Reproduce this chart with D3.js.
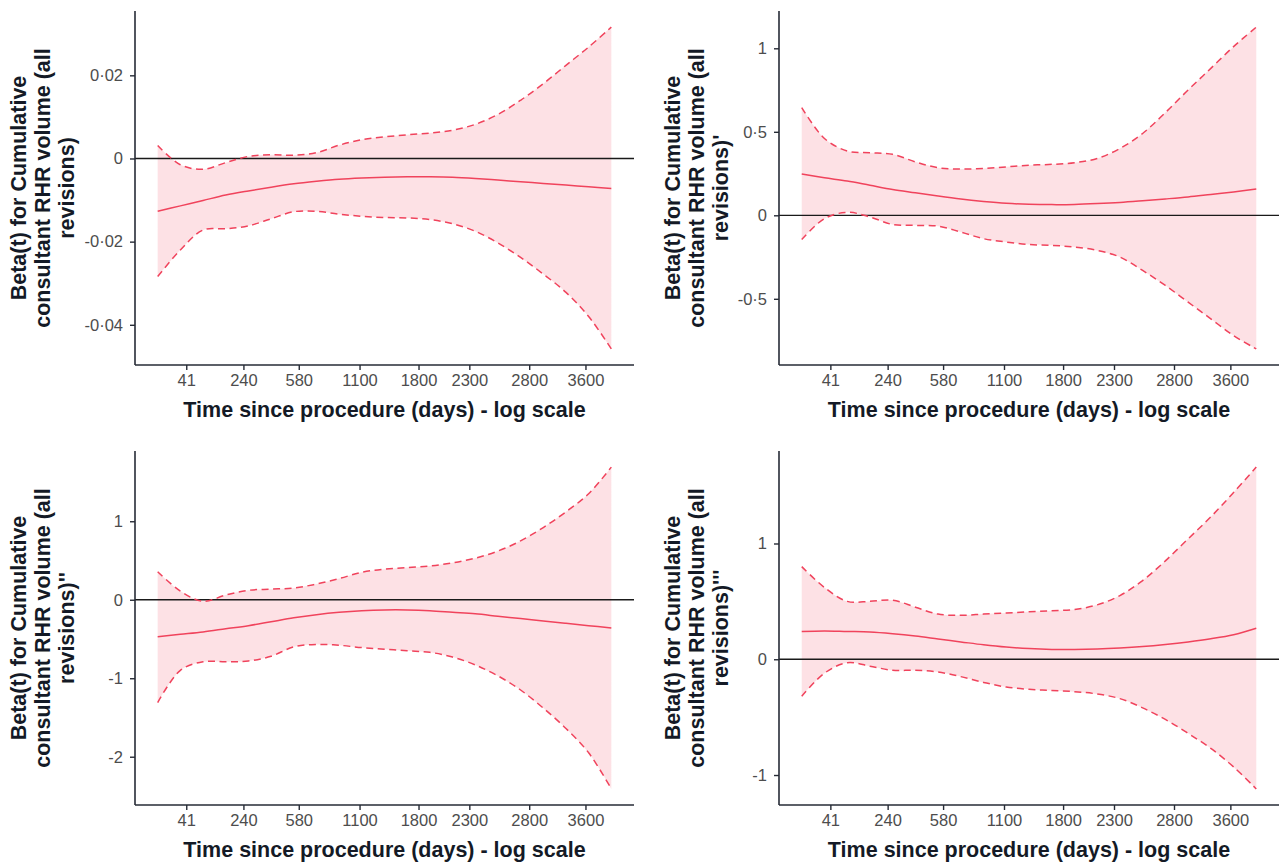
<!DOCTYPE html>
<html>
<head>
<meta charset="utf-8">
<script src="https://cdn.jsdelivr.net/npm/d3@7"></script>
<style>
  html, body { margin: 0; padding: 0; background: #fff; }
  svg { display: block; font-family: "Liberation Sans", Arial, sans-serif; }
</style>
</head>
<body>
<svg id="chart" width="1281" height="866"></svg>
<script>
// Rank-transformed follow-up time (0 = first event, 1 = last event)
const timeGrid = [0, 0.05, 0.1, 0.15, 0.2, 0.25, 0.3, 0.35, 0.4, 0.45, 0.5,
                  0.55, 0.6, 0.65, 0.7, 0.75, 0.8, 0.85, 0.9, 0.95, 1];

// Positions of the labelled days on the transformed time axis
const xTickPos = [0.063, 0.189, 0.311, 0.445, 0.575, 0.687, 0.819, 0.943];
const xTickLabels = ["41", "240", "580", "1100", "1800", "2300", "2800", "3600"];

// Term 1: Cumulative consultant RHR volume (all revisions)
const p1Beta  = [-0.0127, -0.0114, -0.0101, -0.0088, -0.0078, -0.0069, -0.0061, -0.0055, -0.0050, -0.0047, -0.0045,
                 -0.0044, -0.0044, -0.0045, -0.0048, -0.0052, -0.0056, -0.0060, -0.0064, -0.0068, -0.0072];
const p1Upper = [0.0031, -0.0015, -0.0026, -0.0010, 0.0005, 0.0009, 0.0008, 0.0014, 0.0032, 0.0045, 0.0052,
                 0.0057, 0.0061, 0.0068, 0.0082, 0.0106, 0.0140, 0.0180, 0.0224, 0.0268, 0.0316];
const p1Lower = [-0.0284, -0.0220, -0.0172, -0.0169, -0.0162, -0.0145, -0.0128, -0.0127, -0.0134, -0.0139, -0.0142,
                 -0.0143, -0.0147, -0.0157, -0.0175, -0.0203, -0.0238, -0.0278, -0.0322, -0.0380, -0.0458];
const p1YTicks = [-0.04, -0.02, 0, 0.02];

// Term 2: first spline term
const p2Beta  = [0.247, 0.225, 0.205, 0.180, 0.155, 0.135, 0.115, 0.097, 0.083, 0.072, 0.066,
                 0.064, 0.065, 0.070, 0.077, 0.087, 0.098, 0.110, 0.125, 0.140, 0.157];
const p2Upper = [0.645, 0.460, 0.385, 0.375, 0.365, 0.320, 0.285, 0.277, 0.280, 0.290, 0.300,
                 0.305, 0.315, 0.340, 0.400, 0.490, 0.615, 0.750, 0.880, 1.010, 1.127];
const p2Lower = [-0.145, -0.020, 0.018, -0.010, -0.055, -0.060, -0.065, -0.100, -0.140, -0.160, -0.175,
                 -0.180, -0.190, -0.210, -0.250, -0.330, -0.420, -0.520, -0.620, -0.720, -0.800];
const p2YTicks = [-0.5, 0, 0.5, 1];

// Term 3: second spline term
const p3Beta  = [-0.47, -0.44, -0.41, -0.37, -0.33, -0.28, -0.23, -0.19, -0.16, -0.14, -0.13,
                 -0.13, -0.14, -0.16, -0.18, -0.21, -0.24, -0.27, -0.30, -0.33, -0.36];
const p3Upper = [0.357, 0.11, -0.02, 0.06, 0.12, 0.135, 0.15, 0.20, 0.27, 0.35, 0.39,
                 0.41, 0.43, 0.47, 0.53, 0.62, 0.75, 0.92, 1.12, 1.35, 1.69];
const p3Lower = [-1.31, -0.90, -0.79, -0.79, -0.78, -0.72, -0.60, -0.57, -0.58, -0.61, -0.63,
                 -0.65, -0.67, -0.73, -0.83, -0.97, -1.15, -1.38, -1.64, -1.95, -2.41];
const p3YTicks = [-2, -1, 0, 1];

// Term 4: third spline term
const p4Beta  = [0.24, 0.245, 0.24, 0.235, 0.22, 0.20, 0.175, 0.15, 0.125, 0.105, 0.092,
                 0.085, 0.084, 0.088, 0.097, 0.110, 0.128, 0.150, 0.177, 0.212, 0.268];
const p4Upper = [0.80, 0.62, 0.50, 0.50, 0.51, 0.45, 0.39, 0.38, 0.39, 0.40, 0.41,
                 0.42, 0.43, 0.47, 0.55, 0.68, 0.85, 1.04, 1.23, 1.44, 1.66];
const p4Lower = [-0.32, -0.12, -0.03, -0.06, -0.095, -0.095, -0.11, -0.15, -0.20, -0.24, -0.26,
                 -0.27, -0.28, -0.30, -0.34, -0.42, -0.52, -0.64, -0.77, -0.93, -1.12];
const p4YTicks = [-1, 0, 1];

const yTitleLines = [
  ["Beta(t) for Cumulative", "consultant RHR volume (all", "revisions)"],
  ["Beta(t) for Cumulative", "consultant RHR volume (all", "revisions)'"],
  ["Beta(t) for Cumulative", "consultant RHR volume (all", "revisions)''"],
  ["Beta(t) for Cumulative", "consultant RHR volume (all", "revisions)'''"]
];
const xTitle = "Time since procedure (days) - log scale";

// Layout of the 2 x 2 grid
const panels = [
  { beta: p1Beta, upper: p1Upper, lower: p1Lower, yTicks: p1YTicks, title: yTitleLines[0],
    left: 135, right: 634, top: 11, bottom: 365, titleX: 18 },
  { beta: p2Beta, upper: p2Upper, lower: p2Lower, yTicks: p2YTicks, title: yTitleLines[1],
    left: 779, right: 1279, top: 11, bottom: 365, titleX: 672 },
  { beta: p3Beta, upper: p3Upper, lower: p3Lower, yTicks: p3YTicks, title: yTitleLines[2],
    left: 135, right: 634, top: 451, bottom: 805, titleX: 18 },
  { beta: p4Beta, upper: p4Upper, lower: p4Lower, yTicks: p4YTicks, title: yTitleLines[3],
    left: 779, right: 1279, top: 451, bottom: 805, titleX: 672 }
];

const lineColor = "#f0435c";
const axisColor = "#262b36";
const tickTextColor = "#4d4d4d";
const titleColor = "#141a26";

const fmt = d3.formatLocale({
  decimal: "\u00b7", thousands: ",", grouping: [3], currency: ["", ""], minus: "-"
}).format("~g");

const svg = d3.select("#chart");

// ggplot-style 5% expansion of a continuous range
function expand([lo, hi]) {
  const pad = (hi - lo) * 0.05;
  return [lo - pad, hi + pad];
}

panels.forEach(p => {
  const g = svg.append("g");

  const x = d3.scaleLinear()
    .domain(expand(d3.extent(timeGrid)))
    .range([p.left, p.right]);
  const y = d3.scaleLinear()
    .domain(expand([d3.min(p.lower), d3.max(p.upper)]))
    .range([p.bottom, p.top]);

  const rows = timeGrid.map((t, i) => ({ t, beta: p.beta[i], upper: p.upper[i], lower: p.lower[i] }));
  const curve = d3.curveCatmullRom.alpha(0.5);

  // confidence band
  g.append("path")
    .datum(rows)
    .attr("fill", lineColor)
    .attr("fill-opacity", 0.16)
    .attr("d", d3.area().curve(curve)
      .x(d => x(d.t)).y0(d => y(d.lower)).y1(d => y(d.upper)));

  // reference line at zero
  g.append("line")
    .attr("x1", p.left).attr("x2", p.right)
    .attr("y1", y(0)).attr("y2", y(0))
    .attr("stroke", "#1a1a1a").attr("stroke-width", 1.3);

  // confidence limits
  ["upper", "lower"].forEach(k => {
    g.append("path")
      .datum(rows)
      .attr("fill", "none")
      .attr("stroke", lineColor)
      .attr("stroke-width", 1.5)
      .attr("stroke-dasharray", "7,4.5")
      .attr("d", d3.line().curve(curve).x(d => x(d.t)).y(d => y(d[k])));
  });

  // estimated coefficient
  g.append("path")
    .datum(rows)
    .attr("fill", "none")
    .attr("stroke", lineColor)
    .attr("stroke-width", 1.5)
    .attr("d", d3.line().curve(curve).x(d => x(d.t)).y(d => y(d.beta)));

  // x axis
  const xAxis = g.append("g")
    .attr("transform", `translate(0,${p.bottom})`)
    .call(d3.axisBottom(x).tickValues(xTickPos)
      .tickFormat((d, i) => xTickLabels[i]).tickSizeInner(5).tickSizeOuter(0).tickPadding(4));
  // y axis
  const yAxis = g.append("g")
    .attr("transform", `translate(${p.left},0)`)
    .call(d3.axisLeft(y).tickValues(p.yTicks).tickFormat(fmt)
      .tickSizeInner(5).tickSizeOuter(0).tickPadding(7));

  [xAxis, yAxis].forEach(ax => {
    ax.select(".domain").attr("stroke", axisColor).attr("stroke-width", 1.6);
    ax.selectAll(".tick line").attr("stroke", axisColor).attr("stroke-width", 1.4);
    ax.selectAll(".tick text")
      .attr("fill", tickTextColor)
      .style("font-size", "16.5px")
      .style("font-family", "'Liberation Sans', Arial, sans-serif");
  });
  xAxis.select(".domain").attr("d", `M${p.left},0H${p.right}`);
  yAxis.select(".domain").attr("d", `M0,${p.top}V${p.bottom}`);

  // x axis title
  g.append("text")
    .attr("x", (x(0) + x(1)) / 2)
    .attr("y", p.bottom + 52)
    .attr("text-anchor", "middle")
    .attr("fill", titleColor)
    .style("font-size", "21.5px")
    .style("font-weight", "bold")
    .text(xTitle);

  // y axis title, three centred lines
  const cy = (p.top + p.bottom) / 2;
  p.title.forEach((line, i) => {
    const lx = p.titleX + i * 24;
    g.append("text")
      .attr("transform", `translate(${lx},${cy}) rotate(-90)`)
      .attr("text-anchor", "middle")
      .attr("dy", "0.35em")
      .attr("fill", titleColor)
      .style("font-size", "21.5px")
      .style("font-weight", "bold")
      .text(line);
  });
});
</script>
</body>
</html>
